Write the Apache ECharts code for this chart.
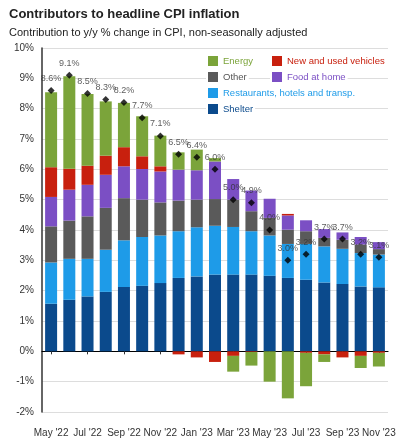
<!DOCTYPE html>
<html><head><meta charset="utf-8">
<script src="https://cdn.jsdelivr.net/npm/echarts@6/dist/echarts.min.js"></script>
<style>html,body{margin:0;padding:0;background:#fff}#c{width:400px;height:444px}</style>
</head><body><div id="c"></div>
<script>
const months = ["May '22","Jun '22","Jul '22","Aug '22","Sep '22","Oct '22","Nov '22","Dec '22","Jan '23","Feb '23","Mar '23","Apr '23","May '23","Jun '23","Jul '23","Aug '23","Sep '23","Oct '23","Nov '23"];
const shelter =     [1.57,1.70,1.81,1.96,2.12,2.16,2.25,2.42,2.47,2.53,2.53,2.53,2.49,2.42,2.36,2.27,2.22,2.14,2.11];
const restaurants = [1.36,1.35,1.24,1.39,1.54,1.61,1.57,1.54,1.62,1.61,1.57,1.43,1.33,1.12,1.18,1.19,1.16,1.10,1.08];
const other =       [1.19,1.26,1.40,1.38,1.39,1.23,1.09,1.01,0.91,0.88,0.90,0.66,0.58,0.47,0.42,0.28,0.30,0.28,0.18];
const food =        [0.97,1.02,1.04,1.09,1.05,1.01,1.02,1.02,0.97,1.24,0.68,0.68,0.63,0.47,0.36,0.29,0.24,0.25,0.23];
const vehicles =    [0.98,0.69,0.63,0.63,0.63,0.42,0.17,-0.10,-0.20,-0.35,-0.15,-0.02,0.00,0.05,-0.05,-0.10,-0.20,-0.15,-0.05];
const energy =      [2.47,3.05,2.36,1.79,1.46,1.32,1.01,0.57,0.68,0.11,-0.52,-0.45,-1.00,-1.55,-1.10,-0.25,0.00,-0.40,-0.45];
const headline =    [8.6,9.1,8.5,8.3,8.2,7.7,7.1,6.5,6.4,6.0,5.0,4.9,4.0,3.0,3.2,3.7,3.7,3.2,3.1];
const yTicks = [-2,-1,0,1,2,3,4,5,6,7,8,9,10];

const C = {shelter:'#0B4A8C',rest:'#1E9BE8',other:'#5A5A5A',food:'#7B4FC4',veh:'#C8200E',energy:'#7BA43A'};
const chart = echarts.init(document.getElementById('c'));
function bar(name, data, color){
  return {name, type:'bar', stack:'a', data, barWidth:12, itemStyle:{color}};
}
function lg(name, left, top, color){
  return {data:[{name,textStyle:{color}}], left, top, itemWidth:10, itemHeight:10, icon:'rect',
    textStyle:{fontSize:9.5, fontFamily:'Liberation Sans'}, backgroundColor:'#fff', padding:[1,2], selectedMode:false};
}
chart.setOption({
  animation:false,
  title:[{text:'Contributors to headline CPI inflation', left:4, top:3, textStyle:{fontSize:13, fontWeight:'bold', color:'#222', fontFamily:'Liberation Sans'}},
         {text:'Contribution to y/y % change in CPI, non-seasonally adjusted', left:4, top:22, textStyle:{fontSize:11, fontWeight:'normal', color:'#222', fontFamily:'Liberation Sans'}}],
  legend:[lg('Energy',206,55,C.energy), lg('New and used vehicles',270,55,C.veh),
          lg('Other',206,71,'#555'), lg('Food at home',270,71,C.food),
          lg('Restaurants, hotels and transp.',206,87,C.rest),
          lg('Shelter',206,103,C.shelter)],
  grid:{left:42, right:12, top:48, bottom:32},
  xAxis:{type:'category', data:months, axisTick:{show:true, alignWithLabel:true, interval:1, length:3, lineStyle:{color:'#333'}},
    axisLine:{onZero:true, lineStyle:{color:'#000', width:1.2}},
    axisLabel:{interval:1, fontSize:10, color:'#333', fontFamily:'Liberation Sans', margin:16}},
  yAxis:{type:'value', min:-2, max:10, interval:1,
    axisLabel:{formatter:v=>yTicks.includes(v)?v+'%':'', fontSize:10, color:'#333', fontFamily:'Liberation Sans'},
    axisLine:{show:true, lineStyle:{color:'#333', width:1.5}},
    splitLine:{lineStyle:{color:'#ddd'}}},
  series:[bar('Shelter',shelter,C.shelter), bar('Restaurants, hotels and transp.',restaurants,C.rest),
    bar('Other',other,C.other), bar('Food at home',food,C.food),
    bar('New and used vehicles',vehicles,C.veh), bar('Energy',energy,C.energy),
    {name:'Headline', type:'scatter', data:headline, symbol:'diamond', symbolSize:7, itemStyle:{color:'#000'}, z:10,
     label:{show:true, position:'top', distance:4, formatter:p=>p.value.toFixed(1)+'%', fontSize:9, color:'#333', fontFamily:'Liberation Sans'}}]
});
</script></body></html>
